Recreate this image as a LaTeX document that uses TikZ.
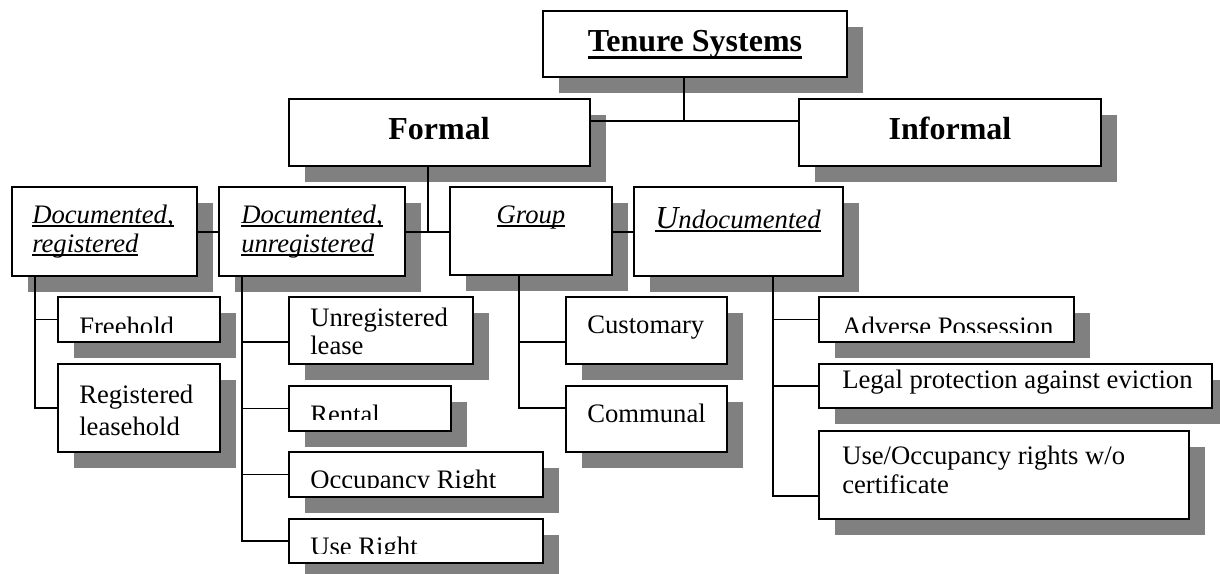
\documentclass[tikz,border=0pt]{standalone}
\usepackage{fontspec}
\setmainfont{Liberation Serif}
\usetikzlibrary{shadows}
\definecolor{shadowgray}{RGB}{128,128,128}
% text with a rule of chosen depth and thickness under it
\newcommand\boxul[3]{\setbox0\hbox{#3}\rlap{\rule[-#1]{\wd0}{#2}}\box0}
% framed box with drop shadow, given by its corners in pixel units
\newcommand\orgbox[5]{\node[box, minimum width={(#4-#2)*0.75pt}, minimum height={(#5-#3)*0.75pt}] (#1) at (#2,#3) {};}

\begin{document}
\begin{tikzpicture}[x=0.75pt,y=-0.75pt,
  box/.style={draw=black, line width=1.4pt, fill=white, inner sep=0pt, outer sep=0pt, anchor=north west,
    drop shadow={shadow xshift=12pt, shadow yshift=-12pt, opacity=1, fill=shadowgray}},
  link/.style={draw=black, line width=1.1pt},
  head/.style={anchor=base, inner sep=0pt, font=\fontsize{24}{28}\selectfont\bfseries},
  cat/.style={anchor=base west, inner sep=0pt, font=\fontsize{20}{24}\selectfont\itshape},
  catc/.style={cat, anchor=base},
  item/.style={anchor=base west, inner sep=0pt, font=\fontsize{20}{24}\selectfont}]

\useasboundingbox (0,0) rectangle (1220,574);

% boxes
\orgbox{tenure}{543}{11}{847}{77}
\orgbox{formal}{289}{99}{590}{166}
\orgbox{informal}{799}{99}{1101}{166}
\orgbox{docreg}{12}{187}{197}{276}
\orgbox{docunreg}{219}{187}{405}{276}
\orgbox{group}{450}{187}{612}{275}
\orgbox{undoc}{634}{187}{843}{276}
\orgbox{freehold}{58}{297}{220}{342}
\orgbox{regl}{58}{364}{220}{452}
\orgbox{unreglease}{289}{297}{473}{364}
\orgbox{rental}{289}{386}{451}{431}
\orgbox{occupancy}{289}{452}{543}{497}
\orgbox{useright}{289}{519}{543}{563}
\orgbox{customary}{566}{297}{727}{364}
\orgbox{communal}{566}{386}{727}{452}
\orgbox{adverse}{819}{297}{1074}{342}
\orgbox{legal}{819}{364}{1212}{408}
\orgbox{useocc}{819}{431}{1189}{519}

% headings
\node[head] (tenure-t) at (695,52) {\boxul{4.9pt}{2.25pt}{Tenure Systems}};
\node[head] (formal-t) at (439,140) {Formal};
\node[head] (informal-t) at (950,140) {Informal};

% categories
\node[cat] (docreg-t1) at (32,223) {\boxul{2.85pt}{1.1pt}{Documented,}};
\node[cat] (docreg-t2) at (32,252) {\boxul{2.85pt}{1.1pt}{registered}};
\node[cat] (docunreg-t1) at (241,223) {\boxul{2.85pt}{1.1pt}{Documented,}};
\node[cat] (docunreg-t2) at (241,252) {\boxul{2.85pt}{1.1pt}{unregistered}};
\node[catc] (group-t) at (531,223) {\boxul{2.85pt}{1.1pt}{Group}};
\node[catc] (undoc-t) at (738,228) {\boxul{2.85pt}{1.1pt}{{\fontsize{24}{28}\selectfont U}ndocumented}};

% items whose text is cut off at the bottom of the box
\begin{scope}
  \clip (freehold.north west) rectangle ([yshift=7.5pt]freehold.south east);
  \node[item] (freehold-t) at (79,335) {Freehold};
\end{scope}
\begin{scope}
  \clip (rental.north west) rectangle ([yshift=9pt]rental.south east);
  \node[item] (rental-t) at (310,423) {Rental};
\end{scope}
\begin{scope}
  \clip (occupancy.north west) rectangle ([yshift=7.5pt]occupancy.south east);
  \node[item] (occupancy-t) at (310,488) {Occupancy Right};
\end{scope}
\begin{scope}
  \clip (useright.north west) rectangle ([yshift=7.5pt]useright.south east);
  \node[item] (useright-t) at (310,555) {Use Right};
\end{scope}
\begin{scope}
  \clip (adverse.north west) rectangle ([yshift=7.5pt]adverse.south east);
  \node[item] (adverse-t) at (842,335) {Adverse Possession};
\end{scope}

% other items
\node[item] (regl-t1) at (79,403) {Registered};
\node[item] (regl-t2) at (79,435) {leasehold};
\node[item] (unreglease-t1) at (310,326) {Unregistered};
\node[item] (unreglease-t2) at (310,354) {lease};
\node[item] (customary-t) at (587,333) {Customary};
\node[item] (communal-t) at (587,422) {Communal};
\node[item] (legal-t) at (842,388) {Legal protection against eviction};
\node[item] (useocc-t1) at (842,464) {Use/Occupancy rights w/o};
\node[item] (useocc-t2) at (842,493) {certificate};

% top level connectors
\coordinate (tj) at (684,121);
\draw[link] (tenure.south -| tj) -- (tj);
\draw[link] (formal.east |- tj) -- (informal.west |- tj);
\coordinate (fj) at (428,232);
\draw[link] (formal.south -| fj) -- (fj);
\draw[link] (docreg.east |- fj) -- (docunreg.west |- fj);
\draw[link] (docunreg.east |- fj) -- (group.west |- fj);
\draw[link] (group.east |- fj) -- (undoc.west |- fj);

% documented, registered
\coordinate (ra) at (35,408);
\draw[link] (docreg.south -| ra) |- (regl.west);
\draw[link] (freehold.west) -- (freehold.west -| ra);

% documented, unregistered
\coordinate (ub) at (242,541);
\coordinate (ub1) at (242,342);
\draw[link] (docunreg.south -| ub) |- (useright.west);
\draw[link] (ub1) -- (unreglease.west |- ub1);
\draw[link] (rental.west) -- (rental.west -| ub);
\draw[link] (occupancy.west) -- (occupancy.west -| ub);

% group
\coordinate (gc1) at (519,342);
\coordinate (gc2) at (519,408);
\draw[link] (group.south -| gc1) -- (gc2) -- (communal.west |- gc2);
\draw[link] (gc1) -- (customary.west |- gc1);

% undocumented
\coordinate (ud1) at (773,496);
\draw[link] (undoc.south -| ud1) -- (ud1) -- (useocc.west |- ud1);
\draw[link] (adverse.west) -- (adverse.west -| ud1);
\draw[link] (legal.west) -- (legal.west -| ud1);
\end{tikzpicture}
\end{document}
